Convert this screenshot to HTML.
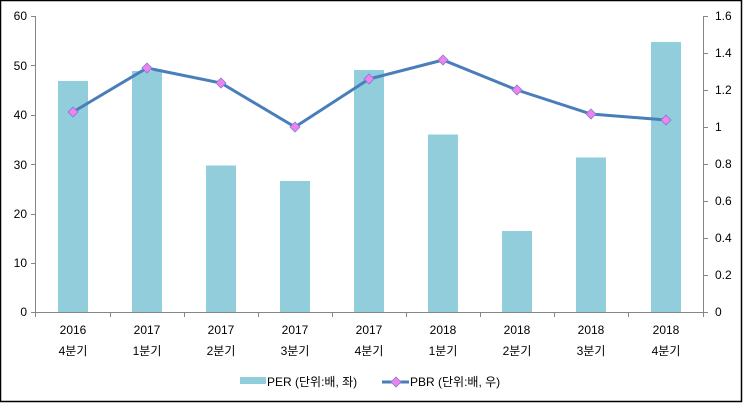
<!DOCTYPE html>
<html><head><meta charset="utf-8"><style>
body{margin:0;background:#fff}
svg{display:block;font-family:"Liberation Sans","Noto Sans CJK KR",sans-serif}
</style></head><body>
<svg width="743" height="403" viewBox="0 0 743 403">
<rect x="0.5" y="0.5" width="741" height="401" fill="#fff" stroke="#000" stroke-width="1.5"/>
<g stroke="#868686" stroke-width="1">
<line x1="35.5" y1="16" x2="35.5" y2="312"/>
<line x1="703.5" y1="16" x2="703.5" y2="312"/>
<line x1="35" y1="312.5" x2="704" y2="312.5"/>
<line x1="31" y1="16.5" x2="35" y2="16.5"/><line x1="31" y1="65.5" x2="35" y2="65.5"/><line x1="31" y1="115.5" x2="35" y2="115.5"/><line x1="31" y1="164.5" x2="35" y2="164.5"/><line x1="31" y1="214.5" x2="35" y2="214.5"/><line x1="31" y1="263.5" x2="35" y2="263.5"/><line x1="31" y1="312.5" x2="35" y2="312.5"/>
<line x1="704" y1="16.5" x2="708" y2="16.5"/><line x1="704" y1="53.5" x2="708" y2="53.5"/><line x1="704" y1="90.5" x2="708" y2="90.5"/><line x1="704" y1="127.5" x2="708" y2="127.5"/><line x1="704" y1="164.5" x2="708" y2="164.5"/><line x1="704" y1="201.5" x2="708" y2="201.5"/><line x1="704" y1="238.5" x2="708" y2="238.5"/><line x1="704" y1="275.5" x2="708" y2="275.5"/><line x1="704" y1="312.5" x2="708" y2="312.5"/>
<line x1="35.5" y1="312" x2="35.5" y2="317"/><line x1="110.5" y1="312" x2="110.5" y2="317"/><line x1="184.5" y1="312" x2="184.5" y2="317"/><line x1="258.5" y1="312" x2="258.5" y2="317"/><line x1="332.5" y1="312" x2="332.5" y2="317"/><line x1="406.5" y1="312" x2="406.5" y2="317"/><line x1="480.5" y1="312" x2="480.5" y2="317"/><line x1="554.5" y1="312" x2="554.5" y2="317"/><line x1="628.5" y1="312" x2="628.5" y2="317"/><line x1="703.5" y1="312" x2="703.5" y2="317"/>
</g>
<g fill="#92CDDC">
<rect x="58" y="81" width="30" height="231"/>
<rect x="132" y="71" width="30" height="241"/>
<rect x="206" y="165.5" width="30" height="146.5"/>
<rect x="280" y="181" width="30" height="131"/>
<rect x="354" y="70" width="30" height="242"/>
<rect x="428" y="134.5" width="30" height="177.5"/>
<rect x="502" y="231" width="30" height="81"/>
<rect x="576" y="157.5" width="30" height="154.5"/>
<rect x="651" y="42" width="30" height="270"/>
</g>
<polyline fill="none" stroke="#4A7EBB" stroke-width="3" points="73,112 147,68 221,83 295,127 369,79 443,60 517,90 591,114 666,120"/>
<g fill="#EE82EE" stroke="#7F7FCF" stroke-width="0.8">
<path d="M73,107l5,5l-5,5l-5,-5z"/><path d="M147,63l5,5l-5,5l-5,-5z"/><path d="M221,78l5,5l-5,5l-5,-5z"/><path d="M295,122l5,5l-5,5l-5,-5z"/><path d="M369,74l5,5l-5,5l-5,-5z"/><path d="M443,55l5,5l-5,5l-5,-5z"/><path d="M517,85l5,5l-5,5l-5,-5z"/><path d="M591,109l5,5l-5,5l-5,-5z"/><path d="M666,115l5,5l-5,5l-5,-5z"/>
</g>
<g font-size="12" fill="#000" text-anchor="end">
<text x="27" y="20">60</text><text x="27" y="70">50</text><text x="27" y="119">40</text><text x="27" y="169">30</text><text x="27" y="218">20</text><text x="27" y="267">10</text><text x="27" y="316">0</text>
</g>
<g font-size="12" fill="#000">
<text x="715" y="20">1.6</text><text x="715" y="57">1.4</text><text x="715" y="94">1.2</text><text x="715" y="131">1</text><text x="715" y="168">0.8</text><text x="715" y="205">0.6</text><text x="715" y="242">0.4</text><text x="715" y="279">0.2</text><text x="715" y="316">0</text>
</g>
<g font-size="12" fill="#000" text-anchor="middle">
<text x="73" y="334">2016</text><text x="73" y="355">4분기</text>
<text x="147" y="334">2017</text><text x="147" y="355">1분기</text>
<text x="221" y="334">2017</text><text x="221" y="355">2분기</text>
<text x="295" y="334">2017</text><text x="295" y="355">3분기</text>
<text x="369" y="334">2017</text><text x="369" y="355">4분기</text>
<text x="443" y="334">2018</text><text x="443" y="355">1분기</text>
<text x="517" y="334">2018</text><text x="517" y="355">2분기</text>
<text x="591" y="334">2018</text><text x="591" y="355">3분기</text>
<text x="666" y="334">2018</text><text x="666" y="355">4분기</text>
</g>
<rect x="240" y="377" width="26" height="7" fill="#92CDDC"/>
<text x="267" y="386" font-size="12">PER (단위:배, 좌)</text>
<line x1="382" y1="382" x2="409" y2="382" stroke="#4A7EBB" stroke-width="3"/>
<path d="M396,377l5,5l-5,5l-5,-5z" fill="#EE82EE" stroke="#7F7FCF" stroke-width="0.8"/>
<text x="410" y="386" font-size="12">PBR (단위:배, 우)</text>
</svg>
</body></html>
